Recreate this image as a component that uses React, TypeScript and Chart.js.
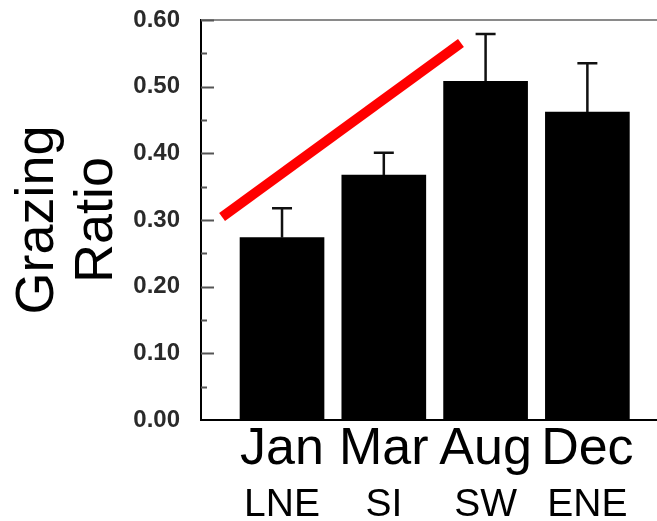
import React, { useEffect, useRef } from "react";
import { Chart, registerables } from "chart.js";

Chart.register(...registerables);

const months = ["Jan", "Mar", "Aug", "Dec"];
const regimes = ["LNE", "SI", "SW", "ENE"];
const ratioValues = [0.2735, 0.3675, 0.508, 0.462];
const errorUpper = [0.3175, 0.401, 0.579, 0.535];
const trendX = [-0.589, 1.758];
const trendY = [0.3045, 0.5655];
const yTickValues = [0, 0.1, 0.2, 0.3, 0.4, 0.5, 0.6];

const FONT = "'Liberation Sans', Arial, Helvetica, sans-serif";

const decorPlugin = {
  id: "decor",
  afterDatasetsDraw(chart: any) {
    const ctx = chart.ctx;
    const ys = chart.scales.y;
    const area = chart.chartArea;
    ctx.save();
    ctx.strokeStyle = "#8a8a8a";
    ctx.lineWidth = 2;
    ctx.beginPath();
    ctx.moveTo(area.left, area.top);
    ctx.lineTo(area.right, area.top);
    ctx.stroke();
    ctx.strokeStyle = "#555";
    ctx.lineWidth = 2;
    for (let i = 1; i <= 12; i++) {
      const v = i * 0.05;
      const py = Math.round(ys.getPixelForValue(v)) + 0.5;
      const len = i % 2 === 0 ? 13 : 6;
      ctx.beginPath();
      ctx.moveTo(area.left, py);
      ctx.lineTo(area.left + len, py);
      ctx.stroke();
    }
    const meta = chart.getDatasetMeta(0);
    ctx.strokeStyle = "#111";
    ctx.lineWidth = 2.5;
    meta.data.forEach((el: any, i: number) => {
      const top = ys.getPixelForValue(errorUpper[i]);
      ctx.beginPath();
      ctx.moveTo(el.x, el.y);
      ctx.lineTo(el.x, top);
      ctx.moveTo(el.x - 10, top);
      ctx.lineTo(el.x + 10, top);
      ctx.stroke();
    });
    ctx.restore();
  },
};

export default function App() {
  const ref = useRef<HTMLCanvasElement | null>(null);
  useEffect(() => {
    if (!ref.current) return;
    const chart = new Chart(ref.current, {
      type: "bar",
      data: {
        datasets: [
          {
            type: "bar",
            data: ratioValues.map((v, i) => ({ x: i, y: v })),
            backgroundColor: "#000",
            borderWidth: 0,
            barThickness: 84,
            xAxisID: "x",
            order: 2,
          } as any,
          {
            type: "line",
            data: trendX.map((x, i) => ({ x, y: trendY[i] })),
            borderColor: "#ff0000",
            borderWidth: 10,
            borderCapStyle: "butt",
            pointRadius: 0,
            fill: false,
            xAxisID: "x",
            order: 1,
          } as any,
        ],
      },
      options: {
        animation: false,
        responsive: false,
        maintainAspectRatio: false,
        layout: { padding: { top: 20, right: 0, left: 0, bottom: 0 } },
        plugins: { legend: { display: false }, tooltip: { enabled: false } },
        scales: {
          x: {
            type: "linear",
            position: "bottom",
            offset: false,
            min: -0.796,
            max: 3.684,
            afterBuildTicks: (s: any) => {
              s.ticks = months.map((_, i) => ({ value: i }));
            },
            afterFit: (s: any) => {
              s.height = 56;
              s.paddingLeft = 0;
              s.paddingRight = 0;
            },
            grid: { display: false, drawTicks: false, offset: false },
            border: { display: true, color: "#000", width: 2 },
            ticks: {
              callback: (v: any) => months[v as number] ?? "",
              font: { family: FONT, size: 52, lineHeight: 1.0 },
              color: "#000",
              padding: 4,
              maxRotation: 0,
              autoSkip: false,
            },
          },
          x2: {
            type: "linear",
            position: "bottom",
            offset: false,
            min: -0.796,
            max: 3.684,
            afterBuildTicks: (s: any) => {
              s.ticks = regimes.map((_, i) => ({ value: i }));
            },
            afterFit: (s: any) => {
              s.height = 45;
              s.paddingLeft = 0;
              s.paddingRight = 0;
            },
            grid: { display: false, drawTicks: false, offset: false },
            border: { display: false },
            ticks: {
              callback: (v: any) => regimes[v as number] ?? "",
              font: { family: FONT, size: 39, lineHeight: 1.0 },
              color: "#000",
              padding: 10,
              maxRotation: 0,
              autoSkip: false,
            },
          },
          y: {
            type: "linear",
            min: 0,
            max: 0.6,
            afterBuildTicks: (s: any) => {
              s.ticks = yTickValues.map((v) => ({ value: v }));
            },
            afterFit: (s: any) => {
              s.width = 201;
              s.paddingTop = 0;
              s.paddingBottom = 0;
            },
            grid: { display: false, drawTicks: false },
            border: { display: true, color: "#000", width: 2 },
            ticks: {
              callback: (v: any) => Number(v).toFixed(2),
              font: { family: FONT, size: 24, weight: "bold" },
              color: "#2a2a2a",
              padding: 21,
            },
            title: {
              display: true,
              text: ["Grazing", "Ratio"],
              font: { family: FONT, size: 54, lineHeight: 1.1 },
              color: "#000",
              padding: { top: 8, bottom: 0 },
            },
          },
        },
      } as any,
      plugins: [decorPlugin],
    });
    return () => chart.destroy();
  }, []);
  return (
    <div style={{ position: "fixed", left: 0, top: 0, width: 657, height: 521, background: "#fff" }}>
      <canvas ref={ref} width={657} height={521} style={{ display: "block" }} />
    </div>
  );
}
